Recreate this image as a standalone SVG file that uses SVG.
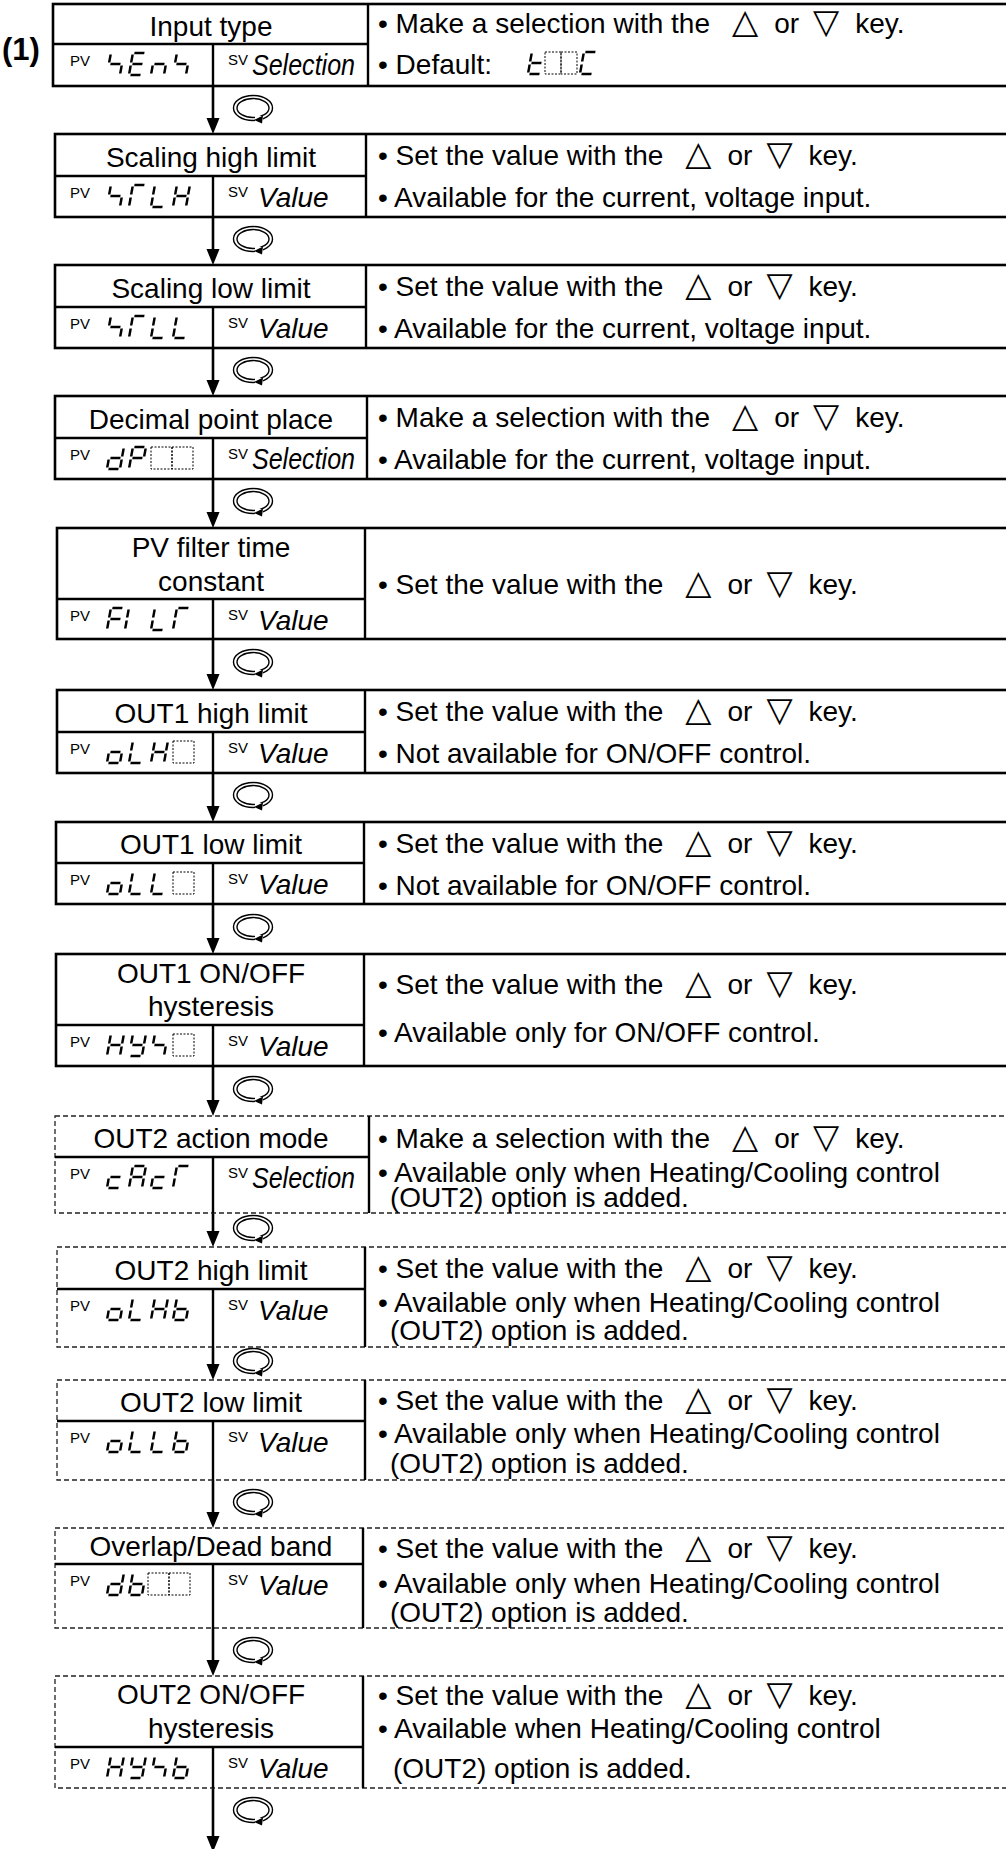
<svg xmlns="http://www.w3.org/2000/svg" width="1006" height="1849" viewBox="0 0 1006 1849">
<style>
.bx{fill:none;stroke:#000;stroke-width:2.6}
.db{fill:none;stroke:#222;stroke-width:1.3;stroke-dasharray:5 3}
.ln{stroke:#000;stroke-width:2.4}
.t{font-family:"Liberation Sans",Arial,sans-serif;font-size:28px;fill:#000}
.c{text-anchor:middle}
.b{font-weight:bold;font-size:31px}
.lab{font-family:"Liberation Sans",Arial,sans-serif;font-size:15px;fill:#000}
.it{font-style:italic}
.sel{font-size:30px}
.tri{font-family:"DejaVu Sans",sans-serif;font-size:34px}
.sg{stroke:#000;stroke-width:2.5;fill:none}
.bl{fill:none;stroke:#000;stroke-width:1;stroke-dasharray:2 1.5}
.cn{stroke:#000;stroke-width:2.6}
.ah{fill:#000}
.rt{fill:none;stroke:#000;stroke-width:1.4}
</style>
<defs>
<line id="sa" x1="1.5" y1="-22" x2="11.5" y2="-22"/>
<line id="sb" x1="13" y1="-20.5" x2="13" y2="-12.5"/>
<line id="sc" x1="13" y1="-9.5" x2="13" y2="-1.5"/>
<line id="sd" x1="1.5" y1="0" x2="11.5" y2="0"/>
<line id="se" x1="0" y1="-9.5" x2="0" y2="-1.5"/>
<line id="sf" x1="0" y1="-20.5" x2="0" y2="-12.5"/>
<line id="sgm" x1="1.5" y1="-11" x2="11.5" y2="-11"/>
<g id="gS" class="sg"><use href="#sf"/><use href="#sgm"/><use href="#sc"/></g>
<g id="gE" class="sg"><use href="#sa"/><use href="#sf"/><use href="#sgm"/><use href="#se"/><use href="#sd"/></g>
<g id="gn" class="sg"><use href="#sgm"/><use href="#se"/><use href="#sc"/></g>
<g id="gR" class="sg"><use href="#sa"/><use href="#sf"/><use href="#se"/></g>
<g id="gL" class="sg"><use href="#sf"/><use href="#se"/><use href="#sd"/></g>
<g id="gH" class="sg"><use href="#sf"/><use href="#sb"/><use href="#sgm"/><use href="#se"/><use href="#sc"/></g>
<g id="gd" class="sg"><use href="#sb"/><use href="#sc"/><use href="#sd"/><use href="#se"/><use href="#sgm"/></g>
<g id="gP" class="sg"><use href="#sa"/><use href="#sb"/><use href="#sf"/><use href="#sgm"/><use href="#se"/></g>
<g id="gF" class="sg"><use href="#sa"/><use href="#sf"/><use href="#sgm"/><use href="#se"/></g>
<g id="gI" class="sg"><use href="#se"/><use href="#sf"/></g>
<g id="go" class="sg"><use href="#sgm"/><use href="#sc"/><use href="#sd"/><use href="#se"/></g>
<g id="gY" class="sg"><use href="#sf"/><use href="#sb"/><use href="#sgm"/><use href="#sc"/><use href="#sd"/></g>
<g id="gb" class="sg"><use href="#sf"/><use href="#se"/><use href="#sd"/><use href="#sc"/><use href="#sgm"/></g>
<g id="gc" class="sg"><use href="#sgm"/><use href="#se"/><use href="#sd"/></g>
<g id="gA" class="sg"><use href="#sa"/><use href="#sb"/><use href="#sc"/><use href="#se"/><use href="#sf"/><use href="#sgm"/></g>
<g id="gt" class="sg"><use href="#sf"/><use href="#se"/><use href="#sgm"/><use href="#sd"/></g>
<g id="gC" class="sg"><use href="#sa"/><use href="#sf"/><use href="#se"/><use href="#sd"/></g>
<rect id="blk" class="bl" x="0" y="-22" width="21" height="22"/>
<g id="rot">
<ellipse class="rt" cx="0" cy="0" rx="19.5" ry="12.5"/>
<ellipse class="rt" cx="0" cy="0" rx="16" ry="9.5"/>
<rect x="2" y="8" width="8" height="6" fill="#fff"/>
<polygon points="1,12 10,7.5 9,15.5" fill="#000"/>
</g>
</defs>

<text class="t b" x="2" y="60">(1)</text>

<g id="connectors">
<line class="cn" x1="213" y1="86" x2="213" y2="120"/><polygon class="ah" points="206.5,118 219.5,118 213,134"/>
<line class="cn" x1="213" y1="217" x2="213" y2="251"/><polygon class="ah" points="206.5,249 219.5,249 213,265"/>
<line class="cn" x1="213" y1="348" x2="213" y2="382"/><polygon class="ah" points="206.5,380 219.5,380 213,396"/>
<line class="cn" x1="213" y1="479" x2="213" y2="514"/><polygon class="ah" points="206.5,512 219.5,512 213,528"/>
<line class="cn" x1="213" y1="639" x2="213" y2="676"/><polygon class="ah" points="206.5,674 219.5,674 213,690"/>
<line class="cn" x1="213" y1="773" x2="213" y2="808"/><polygon class="ah" points="206.5,806 219.5,806 213,822"/>
<line class="cn" x1="213" y1="904" x2="213" y2="940"/><polygon class="ah" points="206.5,938 219.5,938 213,954"/>
<line class="cn" x1="213" y1="1066" x2="213" y2="1102"/><polygon class="ah" points="206.5,1100 219.5,1100 213,1116"/>
<line class="cn" x1="213" y1="1213" x2="213" y2="1233"/><polygon class="ah" points="206.5,1231 219.5,1231 213,1247"/>
<line class="cn" x1="213" y1="1347" x2="213" y2="1366"/><polygon class="ah" points="206.5,1364 219.5,1364 213,1380"/>
<line class="cn" x1="213" y1="1480" x2="213" y2="1514"/><polygon class="ah" points="206.5,1512 219.5,1512 213,1528"/>
<line class="cn" x1="213" y1="1628" x2="213" y2="1662"/><polygon class="ah" points="206.5,1660 219.5,1660 213,1676"/>
<line class="cn" x1="213" y1="1788" x2="213" y2="1838"/><polygon class="ah" points="206.5,1836 219.5,1836 213,1852"/>
<use href="#rot" x="253" y="108"/>
<use href="#rot" x="253" y="239"/>
<use href="#rot" x="253" y="370"/>
<use href="#rot" x="253" y="501"/>
<use href="#rot" x="253" y="662"/>
<use href="#rot" x="253" y="795"/>
<use href="#rot" x="253" y="927"/>
<use href="#rot" x="253" y="1089"/>
<use href="#rot" x="253" y="1228"/>
<use href="#rot" x="253" y="1361"/>
<use href="#rot" x="253" y="1502"/>
<use href="#rot" x="253" y="1650"/>
<use href="#rot" x="253" y="1810"/>
</g>

<g id="n1">
<rect class="bx" x="53" y="4" width="960" height="82"/>
<line class="ln" x1="368" y1="4" x2="368" y2="86"/>
<line class="ln" x1="53" y1="44" x2="368" y2="44"/>
<line class="ln" x1="213" y1="44" x2="213" y2="86"/>
<text class="t c" x="211" y="36">Input type</text>
<text class="lab" x="70" y="66">PV</text>
<use href="#gS" transform="translate(107,75) skewX(-10)"/>
<use href="#gE" transform="translate(129,75) skewX(-10)"/>
<use href="#gn" transform="translate(151,75) skewX(-10)"/>
<use href="#gS" transform="translate(173,75) skewX(-10)"/>
<text class="lab" x="228" y="65">SV</text>
<text class="t it sel" x="252" y="75" textLength="103" lengthAdjust="spacingAndGlyphs">Selection</text>
<text class="t" x="378" y="33">• Make a selection with the<tspan class="tri" dx="22">△</tspan><tspan dx="16">or</tspan><tspan class="tri" dx="14">▽</tspan><tspan dx="16">key.</tspan></text>
<text class="t" x="378" y="74">• Default:</text>
<use href="#gt" transform="translate(528,74) skewX(-10)"/>
<rect class="bl" x="545" y="52" width="16" height="22"/>
<rect class="bl" x="561" y="52" width="16" height="22"/>
<use href="#gC" transform="translate(580,74) skewX(-10)"/>
</g>

<g id="n2">
<rect class="bx" x="55" y="134" width="960" height="83"/>
<line class="ln" x1="366" y1="134" x2="366" y2="217"/>
<line class="ln" x1="55" y1="176" x2="366" y2="176"/>
<line class="ln" x1="213" y1="176" x2="213" y2="217"/>
<text class="t c" x="211" y="167">Scaling high limit</text>
<text class="lab" x="70" y="198">PV</text>
<use href="#gS" transform="translate(107,207) skewX(-10)"/>
<use href="#gR" transform="translate(129,207) skewX(-10)"/>
<use href="#gL" transform="translate(151,207) skewX(-10)"/>
<use href="#gH" transform="translate(173,207) skewX(-10)"/>
<text class="lab" x="228" y="197">SV</text>
<text class="t it" x="258" y="207">Value</text>
<text class="t" x="378" y="165">• Set the value with the<tspan class="tri" dx="22">△</tspan><tspan dx="16">or</tspan><tspan class="tri" dx="14">▽</tspan><tspan dx="16">key.</tspan></text>
<text class="t" x="378" y="207">• Available for the current, voltage input.</text>
</g>

<g id="n3">
<rect class="bx" x="55" y="265" width="960" height="83"/>
<line class="ln" x1="366" y1="265" x2="366" y2="348"/>
<line class="ln" x1="55" y1="307" x2="366" y2="307"/>
<line class="ln" x1="213" y1="307" x2="213" y2="348"/>
<text class="t c" x="211" y="298">Scaling low limit</text>
<text class="lab" x="70" y="329">PV</text>
<use href="#gS" transform="translate(107,338) skewX(-10)"/>
<use href="#gR" transform="translate(129,338) skewX(-10)"/>
<use href="#gL" transform="translate(151,338) skewX(-10)"/>
<use href="#gL" transform="translate(173,338) skewX(-10)"/>
<text class="lab" x="228" y="328">SV</text>
<text class="t it" x="258" y="338">Value</text>
<text class="t" x="378" y="296">• Set the value with the<tspan class="tri" dx="22">△</tspan><tspan dx="16">or</tspan><tspan class="tri" dx="14">▽</tspan><tspan dx="16">key.</tspan></text>
<text class="t" x="378" y="338">• Available for the current, voltage input.</text>
</g>

<g id="n4">
<rect class="bx" x="55" y="396" width="960" height="83"/>
<line class="ln" x1="367" y1="396" x2="367" y2="479"/>
<line class="ln" x1="55" y1="438" x2="367" y2="438"/>
<line class="ln" x1="213" y1="438" x2="213" y2="479"/>
<text class="t c" x="211" y="429">Decimal point place</text>
<text class="lab" x="70" y="460">PV</text>
<use href="#gd" transform="translate(107,469) skewX(-10)"/>
<use href="#gP" transform="translate(129,469) skewX(-10)"/>
<use href="#blk" x="151" y="469"/>
<use href="#blk" x="172" y="469"/>
<text class="lab" x="228" y="459">SV</text>
<text class="t it sel" x="252" y="469" textLength="103" lengthAdjust="spacingAndGlyphs">Selection</text>
<text class="t" x="378" y="427">• Make a selection with the<tspan class="tri" dx="22">△</tspan><tspan dx="16">or</tspan><tspan class="tri" dx="14">▽</tspan><tspan dx="16">key.</tspan></text>
<text class="t" x="378" y="469">• Available for the current, voltage input.</text>
</g>

<g id="n5">
<rect class="bx" x="57" y="528" width="960" height="111"/>
<line class="ln" x1="365" y1="528" x2="365" y2="639"/>
<line class="ln" x1="57" y1="599" x2="365" y2="599"/>
<line class="ln" x1="213" y1="599" x2="213" y2="639"/>
<text class="t c" x="211" y="557">PV filter time</text>
<text class="t c" x="211" y="591">constant</text>
<text class="lab" x="70" y="621">PV</text>
<use href="#gF" transform="translate(107,630) skewX(-10)"/>
<use href="#gI" transform="translate(125,630) skewX(-10)"/>
<use href="#gL" transform="translate(151,630) skewX(-10)"/>
<use href="#gR" transform="translate(173,630) skewX(-10)"/>
<text class="lab" x="228" y="620">SV</text>
<text class="t it" x="258" y="630">Value</text>
<text class="t" x="378" y="594">• Set the value with the<tspan class="tri" dx="22">△</tspan><tspan dx="16">or</tspan><tspan class="tri" dx="14">▽</tspan><tspan dx="16">key.</tspan></text>
</g>

<g id="n6">
<rect class="bx" x="57" y="690" width="960" height="83"/>
<line class="ln" x1="365" y1="690" x2="365" y2="773"/>
<line class="ln" x1="57" y1="732" x2="365" y2="732"/>
<line class="ln" x1="213" y1="732" x2="213" y2="773"/>
<text class="t c" x="211" y="723">OUT1 high limit</text>
<text class="lab" x="70" y="754">PV</text>
<use href="#go" transform="translate(107,763) skewX(-10)"/>
<use href="#gL" transform="translate(129,763) skewX(-10)"/>
<use href="#gH" transform="translate(151,763) skewX(-10)"/>
<use href="#blk" x="173" y="763"/>
<text class="lab" x="228" y="753">SV</text>
<text class="t it" x="258" y="763">Value</text>
<text class="t" x="378" y="721">• Set the value with the<tspan class="tri" dx="22">△</tspan><tspan dx="16">or</tspan><tspan class="tri" dx="14">▽</tspan><tspan dx="16">key.</tspan></text>
<text class="t" x="378" y="763">• Not available for ON/OFF control.</text>
</g>

<g id="n7">
<rect class="bx" x="56" y="822" width="960" height="82"/>
<line class="ln" x1="364" y1="822" x2="364" y2="904"/>
<line class="ln" x1="56" y1="863" x2="364" y2="863"/>
<line class="ln" x1="213" y1="863" x2="213" y2="904"/>
<text class="t c" x="211" y="854">OUT1 low limit</text>
<text class="lab" x="70" y="885">PV</text>
<use href="#go" transform="translate(107,894) skewX(-10)"/>
<use href="#gL" transform="translate(129,894) skewX(-10)"/>
<use href="#gL" transform="translate(151,894) skewX(-10)"/>
<use href="#blk" x="173" y="894"/>
<text class="lab" x="228" y="884">SV</text>
<text class="t it" x="258" y="894">Value</text>
<text class="t" x="378" y="853">• Set the value with the<tspan class="tri" dx="22">△</tspan><tspan dx="16">or</tspan><tspan class="tri" dx="14">▽</tspan><tspan dx="16">key.</tspan></text>
<text class="t" x="378" y="895">• Not available for ON/OFF control.</text>
</g>

<g id="n8">
<rect class="bx" x="56" y="954" width="960" height="112"/>
<line class="ln" x1="364" y1="954" x2="364" y2="1066"/>
<line class="ln" x1="56" y1="1025" x2="364" y2="1025"/>
<line class="ln" x1="213" y1="1025" x2="213" y2="1066"/>
<text class="t c" x="211" y="983">OUT1 ON/OFF</text>
<text class="t c" x="211" y="1016">hysteresis</text>
<text class="lab" x="70" y="1047">PV</text>
<use href="#gH" transform="translate(107,1056) skewX(-10)"/>
<use href="#gY" transform="translate(129,1056) skewX(-10)"/>
<use href="#gS" transform="translate(151,1056) skewX(-10)"/>
<use href="#blk" x="173" y="1056"/>
<text class="lab" x="228" y="1046">SV</text>
<text class="t it" x="258" y="1056">Value</text>
<text class="t" x="378" y="994">• Set the value with the<tspan class="tri" dx="22">△</tspan><tspan dx="16">or</tspan><tspan class="tri" dx="14">▽</tspan><tspan dx="16">key.</tspan></text>
<text class="t" x="378" y="1042">• Available only for ON/OFF control.</text>
</g>

<g id="n9">
<rect class="db" x="55" y="1116" width="960" height="97"/>
<line class="ln" x1="369" y1="1116" x2="369" y2="1213"/>
<line class="ln" x1="55" y1="1157" x2="369" y2="1157"/>
<line class="ln" x1="213" y1="1157" x2="213" y2="1213"/>
<text class="t c" x="211" y="1148">OUT2 action mode</text>
<text class="lab" x="70" y="1179">PV</text>
<use href="#gc" transform="translate(107,1188) skewX(-10)"/>
<use href="#gA" transform="translate(129,1188) skewX(-10)"/>
<use href="#gc" transform="translate(151,1188) skewX(-10)"/>
<use href="#gR" transform="translate(173,1188) skewX(-10)"/>
<text class="lab" x="228" y="1178">SV</text>
<text class="t it sel" x="252" y="1188" textLength="103" lengthAdjust="spacingAndGlyphs">Selection</text>
<text class="t" x="378" y="1148">• Make a selection with the<tspan class="tri" dx="22">△</tspan><tspan dx="16">or</tspan><tspan class="tri" dx="14">▽</tspan><tspan dx="16">key.</tspan></text>
<text class="t" x="378" y="1182">• Available only when Heating/Cooling control</text>
<text class="t" x="390" y="1207">(OUT2) option is added.</text>
</g>

<g id="n10">
<rect class="db" x="57" y="1247" width="960" height="100"/>
<line class="ln" x1="365" y1="1247" x2="365" y2="1347"/>
<line class="ln" x1="57" y1="1289" x2="365" y2="1289"/>
<line class="ln" x1="213" y1="1289" x2="213" y2="1347"/>
<text class="t c" x="211" y="1280">OUT2 high limit</text>
<text class="lab" x="70" y="1311">PV</text>
<use href="#go" transform="translate(107,1320) skewX(-10)"/>
<use href="#gL" transform="translate(129,1320) skewX(-10)"/>
<use href="#gH" transform="translate(151,1320) skewX(-10)"/>
<use href="#gb" transform="translate(173,1320) skewX(-10)"/>
<text class="lab" x="228" y="1310">SV</text>
<text class="t it" x="258" y="1320">Value</text>
<text class="t" x="378" y="1278">• Set the value with the<tspan class="tri" dx="22">△</tspan><tspan dx="16">or</tspan><tspan class="tri" dx="14">▽</tspan><tspan dx="16">key.</tspan></text>
<text class="t" x="378" y="1312">• Available only when Heating/Cooling control</text>
<text class="t" x="390" y="1340">(OUT2) option is added.</text>
</g>

<g id="n11">
<rect class="db" x="57" y="1380" width="960" height="100"/>
<line class="ln" x1="365" y1="1380" x2="365" y2="1480"/>
<line class="ln" x1="57" y1="1421" x2="365" y2="1421"/>
<line class="ln" x1="213" y1="1421" x2="213" y2="1480"/>
<text class="t c" x="211" y="1412">OUT2 low limit</text>
<text class="lab" x="70" y="1443">PV</text>
<use href="#go" transform="translate(107,1452) skewX(-10)"/>
<use href="#gL" transform="translate(129,1452) skewX(-10)"/>
<use href="#gL" transform="translate(151,1452) skewX(-10)"/>
<use href="#gb" transform="translate(173,1452) skewX(-10)"/>
<text class="lab" x="228" y="1442">SV</text>
<text class="t it" x="258" y="1452">Value</text>
<text class="t" x="378" y="1410">• Set the value with the<tspan class="tri" dx="22">△</tspan><tspan dx="16">or</tspan><tspan class="tri" dx="14">▽</tspan><tspan dx="16">key.</tspan></text>
<text class="t" x="378" y="1443">• Available only when Heating/Cooling control</text>
<text class="t" x="390" y="1473">(OUT2) option is added.</text>
</g>

<g id="n12">
<rect class="db" x="55" y="1528" width="960" height="100"/>
<line class="ln" x1="363" y1="1528" x2="363" y2="1628"/>
<line class="ln" x1="55" y1="1564" x2="363" y2="1564"/>
<line class="ln" x1="213" y1="1564" x2="213" y2="1628"/>
<text class="t c" x="211" y="1556">Overlap/Dead band</text>
<text class="lab" x="70" y="1586">PV</text>
<use href="#gd" transform="translate(107,1595) skewX(-10)"/>
<use href="#gb" transform="translate(129,1595) skewX(-10)"/>
<use href="#blk" x="148" y="1595"/>
<use href="#blk" x="169" y="1595"/>
<text class="lab" x="228" y="1585">SV</text>
<text class="t it" x="258" y="1595">Value</text>
<text class="t" x="378" y="1558">• Set the value with the<tspan class="tri" dx="22">△</tspan><tspan dx="16">or</tspan><tspan class="tri" dx="14">▽</tspan><tspan dx="16">key.</tspan></text>
<text class="t" x="378" y="1593">• Available only when Heating/Cooling control</text>
<text class="t" x="390" y="1622">(OUT2) option is added.</text>
</g>

<g id="n13">
<rect class="db" x="55" y="1676" width="960" height="112"/>
<line class="ln" x1="363" y1="1676" x2="363" y2="1788"/>
<line class="ln" x1="55" y1="1747" x2="363" y2="1747"/>
<line class="ln" x1="213" y1="1747" x2="213" y2="1788"/>
<text class="t c" x="211" y="1704">OUT2 ON/OFF</text>
<text class="t c" x="211" y="1738">hysteresis</text>
<text class="lab" x="70" y="1769">PV</text>
<use href="#gH" transform="translate(107,1778) skewX(-10)"/>
<use href="#gY" transform="translate(129,1778) skewX(-10)"/>
<use href="#gS" transform="translate(151,1778) skewX(-10)"/>
<use href="#gb" transform="translate(173,1778) skewX(-10)"/>
<text class="lab" x="228" y="1768">SV</text>
<text class="t it" x="258" y="1778">Value</text>
<text class="t" x="378" y="1705">• Set the value with the<tspan class="tri" dx="22">△</tspan><tspan dx="16">or</tspan><tspan class="tri" dx="14">▽</tspan><tspan dx="16">key.</tspan></text>
<text class="t" x="378" y="1738">• Available when Heating/Cooling control</text>
<text class="t" x="393" y="1778">(OUT2) option is added.</text>
</g>
</svg>
